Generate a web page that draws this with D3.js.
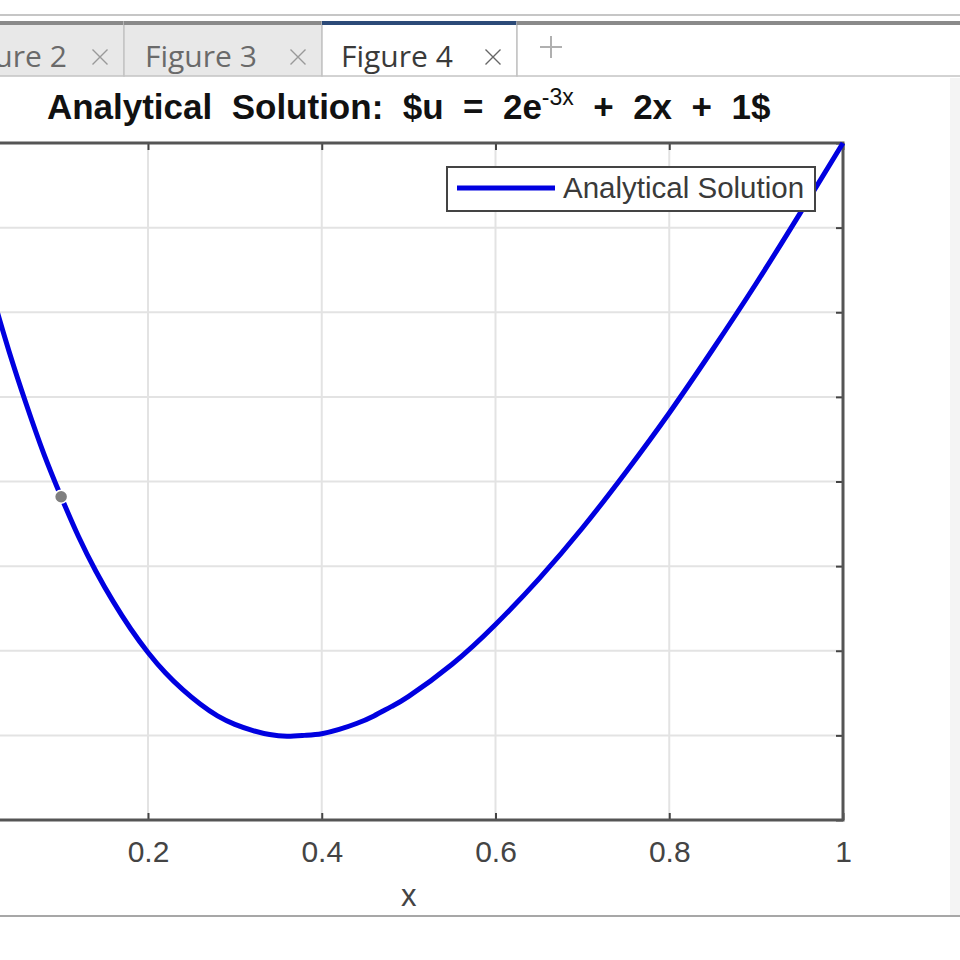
<!DOCTYPE html>
<html><head><meta charset="utf-8">
<script src="https://cdn.jsdelivr.net/npm/d3@7"></script>
<style>
html,body{margin:0;padding:0;background:#fff;}
svg{display:block;}
text{white-space:pre;}
</style></head>
<body>
<script>
// ---- data ----
const xValues = [0, 0.02, 0.04, 0.06, 0.08, 0.10, 0.12, 0.14, 0.16, 0.18, 0.20, 0.22, 0.24, 0.26, 0.28, 0.30, 0.32, 0.34, 0.36, 0.38, 0.40, 0.42, 0.44, 0.46, 0.48, 0.50, 0.55, 0.60, 0.65, 0.70, 0.75, 0.80, 0.85, 0.90, 0.95, 1.00];
const uValues = [3.000, 2.924, 2.854, 2.791, 2.733, 2.682, 2.635, 2.594, 2.558, 2.526, 2.498, 2.474, 2.454, 2.437, 2.423, 2.413, 2.406, 2.401, 2.399, 2.400, 2.402, 2.407, 2.414, 2.423, 2.434, 2.446, 2.484, 2.531, 2.585, 2.645, 2.711, 2.781, 2.856, 2.934, 3.016, 3.100];
const xTicks = [0, 0.2, 0.4, 0.6, 0.8, 1];
const xTickLabels = ["0", "0.2", "0.4", "0.6", "0.8", "1"];
const yTicks = [2.3, 2.4, 2.5, 2.6, 2.7, 2.8, 2.9, 3.0, 3.1];
const dataTip = [{x: 0.1, u: 2.682}];
const tabs = ["Figure 2", "Figure 3", "Figure 4"];
const seriesName = "Analytical Solution";
const xLabel = "x";

const W = 960, H = 960;
const svg = d3.select("body").append("svg").attr("width", W).attr("height", H);

// ---- window chrome ----
svg.append("rect").attr("x",0).attr("y",0).attr("width",W).attr("height",H).attr("fill","#fff");
svg.append("line").attr("x1",0).attr("x2",W).attr("y1",15).attr("y2",15).attr("stroke","#c6c6c6").attr("stroke-width",2);
const tabX = [-75, 124, 322, 517];
const tabTextX = [-45, 145, 341];
function drawX(cx, cy, color){
  const s = 7.5;
  svg.append("path").attr("d",`M${cx-s},${cy-s}L${cx+s},${cy+s}M${cx-s},${cy+s}L${cx+s},${cy-s}`)
    .attr("stroke",color).attr("stroke-width",1.4).attr("fill","none");
}
tabs.forEach((t,i)=>{
  const active = i === tabs.length-1;
  svg.append("rect").attr("x",tabX[i]).attr("y",22).attr("width",tabX[i+1]-tabX[i]).attr("height",54)
    .attr("fill", active ? "#fff" : "#e8e8e8").attr("stroke","#c4c4c4").attr("stroke-width",1.5);
  svg.append("line").attr("x1",tabX[i]).attr("x2",tabX[i+1]).attr("y1",23).attr("y2",23)
    .attr("stroke", active ? "#2c4a78" : "#8a8a8a").attr("stroke-width",4);
  svg.append("text").attr("x",tabTextX[i]).attr("y",67).attr("font-family","'Open Sans', 'Noto Sans', sans-serif")
    .attr("font-size",30).attr("fill", active ? "#3a3a3a" : "#6a6a6a").text(t);
  drawX(tabX[i+1]-24, 57, active ? "#666" : "#999");
});
svg.append("rect").attr("x",517).attr("y",22).attr("width",460).attr("height",54).attr("fill","#fff").attr("stroke","#c4c4c4").attr("stroke-width",1.5);
svg.append("line").attr("x1",517).attr("x2",W).attr("y1",23).attr("y2",23).attr("stroke","#8a8a8a").attr("stroke-width",4);
svg.append("path").attr("d","M551,36V58M540,47H562").attr("stroke","#b0b0b0").attr("stroke-width",2).attr("fill","none");
svg.append("rect").attr("x",950).attr("y",78).attr("width",10).attr("height",837).attr("fill","#f4f4f4");
svg.append("line").attr("x1",0).attr("x2",W).attr("y1",916).attr("y2",916).attr("stroke","#8a8a8a").attr("stroke-width",1.5);

// ---- axes ----
const pLeft = -25.75, pRight = 843, pTop = 143, pBottom = 820;
const x = d3.scaleLinear().domain([0,1]).range([pLeft,pRight]);
const y = d3.scaleLinear().domain([2.3,3.1]).range([pBottom,pTop]);
const g = svg.append("g");

// grid
g.append("g").selectAll("line").data(xTicks).join("line")
  .attr("x1",d=>x(d)).attr("x2",d=>x(d)).attr("y1",pTop).attr("y2",pBottom)
  .attr("stroke","#e3e3e3").attr("stroke-width",2);
g.append("g").selectAll("line").data(yTicks).join("line")
  .attr("x1",pLeft).attr("x2",pRight).attr("y1",d=>y(d)).attr("y2",d=>y(d))
  .attr("stroke","#e3e3e3").attr("stroke-width",2);

const tickFont = "'Liberation Sans', Arial, sans-serif";
// bottom axis with labels
const xAxis = d3.axisBottom(x).tickValues(xTicks).tickSizeInner(-7).tickSizeOuter(0).tickPadding(21)
  .tickFormat((d,i)=>xTickLabels[i]);
const xa = g.append("g").attr("transform",`translate(0,${pBottom})`).call(xAxis);
xa.select(".domain").remove();
xa.selectAll("line").attr("stroke","#444").attr("stroke-width",2);
xa.selectAll("text").attr("font-family",tickFont).attr("font-size",30).attr("fill","#444");
// top axis ticks
const xt = g.append("g").attr("transform",`translate(0,${pTop})`).call(d3.axisTop(x).tickValues(xTicks).tickSizeInner(-7).tickSizeOuter(0).tickFormat(""));
xt.select(".domain").remove(); xt.selectAll("line").attr("stroke","#444").attr("stroke-width",2);
// right axis ticks
const yr = g.append("g").attr("transform",`translate(${pRight},0)`).call(d3.axisRight(y).tickValues(yTicks).tickSizeInner(-7).tickSizeOuter(0).tickFormat(""));
yr.select(".domain").remove(); yr.selectAll("line").attr("stroke","#444").attr("stroke-width",2);
// left axis ticks (off-screen)
const yl = g.append("g").attr("transform",`translate(${pLeft},0)`).call(d3.axisLeft(y).tickValues(yTicks).tickSizeInner(-7).tickSizeOuter(0));
yl.select(".domain").remove(); yl.selectAll("line").attr("stroke","#444").attr("stroke-width",2);
yl.selectAll("text").attr("font-family",tickFont).attr("font-size",30).attr("fill","#444");

// box
g.append("rect").attr("x",pLeft).attr("y",pTop).attr("width",pRight-pLeft).attr("height",pBottom-pTop)
  .attr("fill","none").attr("stroke","#555").attr("stroke-width",3);

// x label
svg.append("text").attr("x",(pLeft+pRight)/2).attr("y",906).attr("text-anchor","middle")
  .attr("font-family",tickFont).attr("font-size",31).attr("fill","#444").text(xLabel);

// curve
svg.append("clipPath").attr("id","clip").append("rect").attr("x",pLeft).attr("y",pTop-4).attr("width",pRight-pLeft+4).attr("height",pBottom-pTop+8);
const pts = xValues.map((v,i)=>({x:v,u:uValues[i]}));
const line = d3.line().x(d=>x(d.x)).y(d=>y(d.u)).curve(d3.curveNatural);
svg.append("path").datum(pts).attr("clip-path","url(#clip)").attr("d",line)
  .attr("fill","none").attr("stroke","#0000e0").attr("stroke-width",5);

// data tip marker
svg.selectAll("circle.tip").data(dataTip).join("circle").attr("class","tip")
  .attr("cx",d=>x(d.x)).attr("cy",d=>y(d.u)).attr("r",6.5).attr("fill","#7f7f7f").attr("stroke","#fff").attr("stroke-width",1.5);

// legend
const lg = svg.append("g");
lg.append("rect").attr("x",447).attr("y",167).attr("width",368).attr("height",44).attr("fill","#fff").attr("stroke","#444").attr("stroke-width",2);
lg.append("line").attr("x1",457).attr("x2",555).attr("y1",188).attr("y2",188).attr("stroke","#0000e0").attr("stroke-width",5);
lg.append("text").attr("x",563).attr("y",198).attr("font-family",tickFont).attr("font-size",29.5).attr("fill","#3a3a3a").text(seriesName);

// title
const title = svg.append("text").attr("x",(pLeft+pRight)/2).attr("y",119).attr("text-anchor","middle")
  .attr("font-family",tickFont).attr("font-weight","bold").attr("font-size",35).attr("fill","#111");
title.append("tspan").text("Analytical  Solution:  $u  =  2e");
title.append("tspan").attr("font-size",23).attr("dy",-14).attr("font-weight","normal").text("-3x");
title.append("tspan").attr("dy",14).text("  +  2x  +  1$");
</script>
</body></html>
